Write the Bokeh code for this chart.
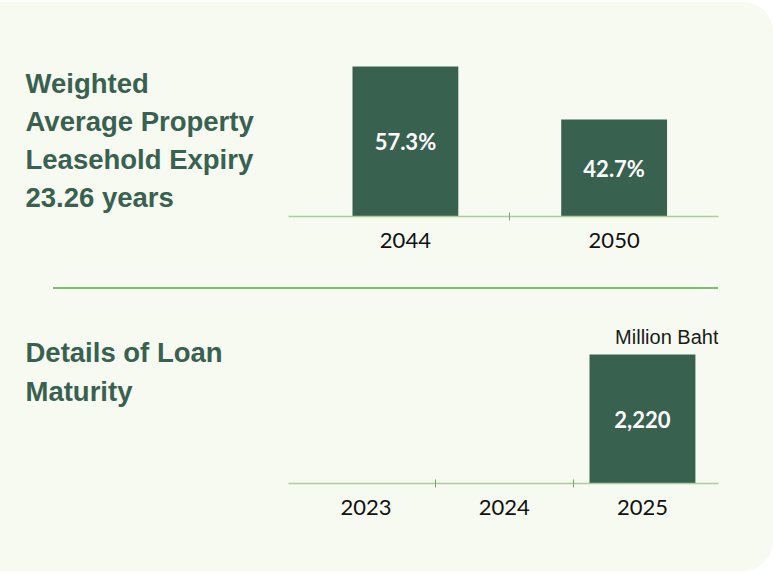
from bokeh.plotting import figure
from bokeh.layouts import column, row
from bokeh.models import Range1d, FixedTicker, ColumnDataSource, Label, Spacer
from bokeh.core.properties import value
from bokeh.embed import file_html
from bokeh.resources import INLINE

# ---- data ----
lease_years = ["2044", "2050"]
lease_share = [57.3, 42.7]
loan_years = ["2023", "2024", "2025"]
loan_amount = [0, 0, 2220]
lease_title = ["Weighted", "Average Property", "Leasehold Expiry", "23.26 years"]
loan_title = ["Details of Loan", "Maturity"]
loan_unit = "Million Baht"

# ---- style ----
BG = "#f7faf0"
BAR = "#386150"
TITLE = "#386150"
AXIS = "#a9d09b"
TICK = "#6fae60"
SEP = "#82bb74"


def clean(f):
    f.grid.visible = False
    f.outline_line_color = None
    f.background_fill_alpha = 0
    f.border_fill_alpha = 0
    return f


def title_fig(lines, height, top_border, bottom_border, first_baseline, step):
    # y range in row pixel coordinates (0 at the row top), matched to the bar frame
    f = figure(width=288, height=height, x_range=Range1d(0, 288),
               y_range=Range1d(height - bottom_border, top_border),
               output_backend="svg", toolbar_location=None, tools="",
               min_border_left=0, min_border_right=0,
               min_border_top=top_border, min_border_bottom=bottom_border,
               x_axis_location=None, y_axis_location=None)
    clean(f)
    ys = [first_baseline + i * step for i in range(len(lines))]
    f.text(x=[25] * len(lines), y=ys, text=lines,
           text_font=value("Liberation Sans"), text_font_style="bold",
           text_font_size="27.5px", text_color=TITLE,
           text_baseline="alphabetic", text_align="left")
    return f


def bar_fig(cats, vals, labels, height, xr, yr, bar_w, top_border, bottom_border):
    f = figure(width=485, height=height, x_range=Range1d(*xr),
               y_range=Range1d(*yr), output_backend="svg",
               toolbar_location=None, tools="",
               min_border_left=0, min_border_right=55,
               min_border_top=top_border, min_border_bottom=bottom_border,
               y_axis_location=None)
    clean(f)
    xs = [i + 0.5 for i in range(len(cats))]
    src = ColumnDataSource(dict(x=xs, top=vals, label=labels,
                                ly=[(yr[0] + v) / 2 for v in vals]))
    f.vbar(x="x", top="top", bottom=0, width=bar_w, source=src,
           fill_color=BAR, line_color=None)
    f.text(x="x", y="ly", text="label", source=src, text_color="white",
           text_font=value("Lato"), text_font_style="bold",
           text_font_size="22px", text_align="center", text_baseline="middle")
    ax = f.xaxis[0]
    ax.ticker = FixedTicker(ticks=xs, minor_ticks=list(range(1, len(cats))))
    ax.major_label_overrides = {x: c for x, c in zip(xs, cats)}
    ax.axis_line_color = AXIS
    ax.axis_line_width = 1.5
    ax.major_tick_line_color = None
    ax.major_tick_in = 0
    ax.major_tick_out = 0
    ax.minor_tick_line_color = TICK
    ax.minor_tick_in = 4
    ax.minor_tick_out = 4
    ax.major_label_text_font = "Lato"
    ax.major_label_text_font_size = "22px"
    ax.major_label_text_color = "#111111"
    ax.major_label_standoff = 12
    return f


tl = title_fig(lease_title, 282, 28, 68, 81, 38)
tr = bar_fig(lease_years, lease_share, [f"{v}%" for v in lease_share], 282,
             (-0.06, 2.0), (16, 67.2), 0.507, 28, 68)

# thin divider between the two panels
sep = Spacer(width=665, height=2, margin=(3, 0, 3, 53),
             styles={"background-color": SEP})

bl = title_fig(loan_title, 279, 8, 88, 60, 39)
br = bar_fig(loan_years, loan_amount, [f"{v:,}" if v else "" for v in loan_amount], 279,
             (-0.06, 3.05), (0, 3150), 0.766, 8, 88)
br.add_layout(Label(x=3.05, y=2530, text=loan_unit, text_align="right",
                    text_baseline="alphabetic", text_font="Liberation Sans",
                    text_font_size="20px", text_color="#1a1a1a"))

layout = column(row(tl, tr), sep, row(bl, br),
                styles={"background-color": BG,
                        "border-radius": "0 30px 30px 0",
                        "margin-top": "2px"})

open("out.html", "w").write(file_html(layout, INLINE))
